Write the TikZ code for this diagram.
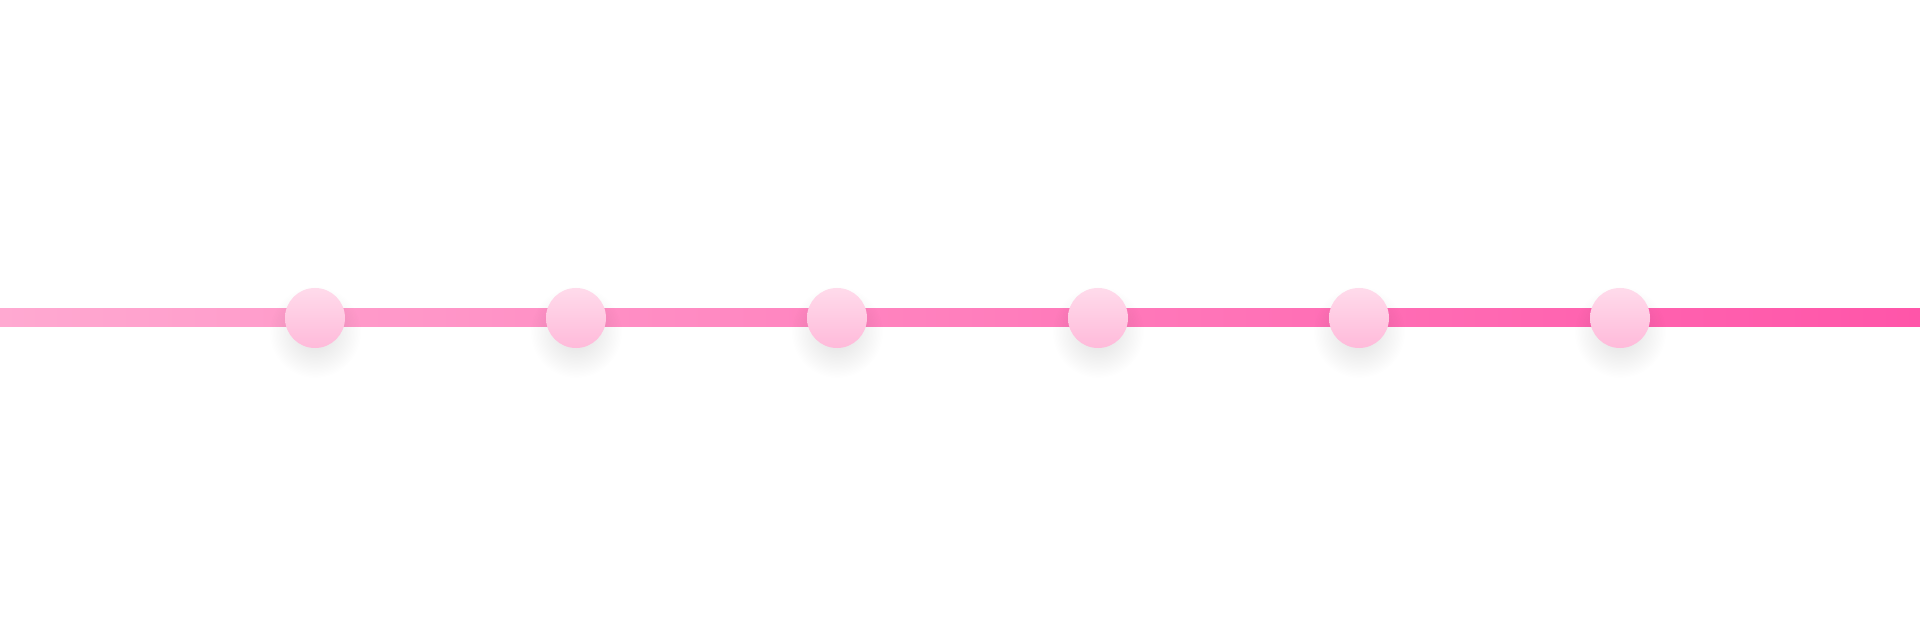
\documentclass[tikz,border=0pt]{standalone}
\usetikzlibrary{fadings}
\definecolor{lineL}{HTML}{FFA9D1}
\definecolor{lineR}{HTML}{FF55A9}
\definecolor{dotT}{HTML}{FFDBEB}
\definecolor{dotB}{HTML}{FFBADA}
\tikzfading[name=softshadow, inner color=transparent!0, outer color=transparent!100]
\tikzset{
  dotnode/.style={circle, minimum size=60pt, inner sep=0pt, draw=none,
    top color=dotT, bottom color=dotB},
  shadowfill/.style={fill=black, opacity=0.13, path fading=softshadow}
}
\begin{document}
\begin{tikzpicture}[x=1pt,y=1pt]
\useasboundingbox[fill=white] (0,0) rectangle (1920,636);
\coordinate (L) at (0,318);
\coordinate (R) at (1920,318);
\shade[left color=lineL, right color=lineR] ([yshift=-9pt]L) rectangle ([yshift=9pt]R);
\foreach \i/\x in {1/315,2/576,3/837,4/1098,5/1359,6/1620}{
  \fill[shadowfill] (\x,304) circle (46pt);
  \node[dotnode] (c\i) at (\x,318) {};
}
\end{tikzpicture}
\end{document}
